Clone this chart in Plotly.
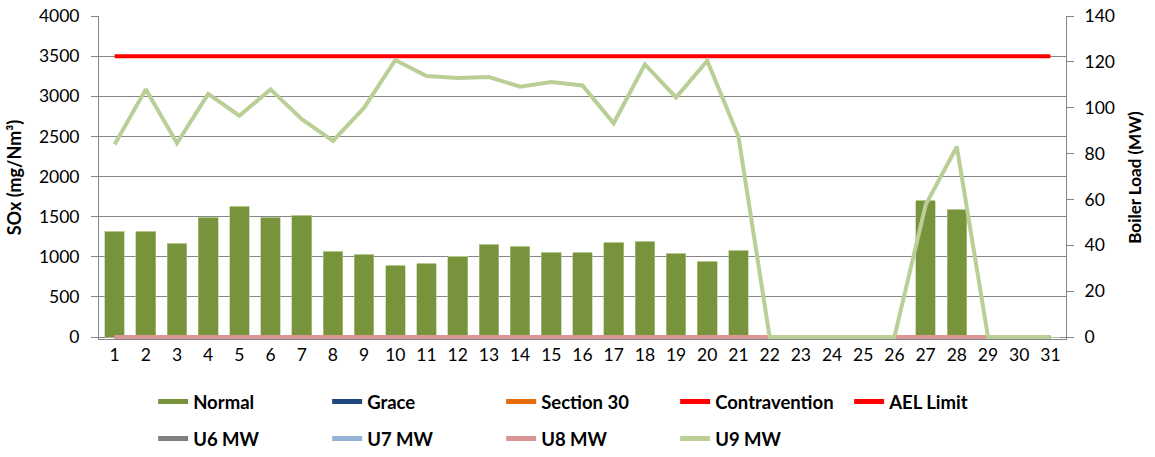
import plotly.graph_objects as go

days = list(range(1, 32))
normal = [1320, 1310, 1170, 1490, 1630, 1490, 1520, 1060, 1030, 890, 910, 1000, 1150, 1130,
          1055, 1050, 1175, 1190, 1040, 940, 1080, None, None, None, None, None, 1700, 1585,
          None, None, None]
grace = [0] * 31
section30 = [0] * 31
contravention = [0] * 31
ael_limit = [3500] * 31
u6_mw = [0] * 31
u7_mw = [0] * 31
u8_mw = [0] * 31
u9_mw = [84, 108, 84.5, 106, 96.5, 108, 95, 85.5, 100, 120.8, 113.8, 113, 113.4, 109.2,
         111.2, 109.7, 93.2, 118.9, 104.5, 120.5, 87.4, 0, 0, 0, 0, 0, 57.6, 83, 0, 0, 0]

FONT = "Lato"
GRID = "#868686"

fig = go.Figure()

bar_series = [("Normal", normal, "#77933C"), ("Grace", grace, "#1F497D"),
              ("Section 30", section30, "#E46C0A"), ("Contravention", contravention, "#FF0000")]
for name, vals, col in bar_series:
    fig.add_trace(go.Bar(x=days, y=vals, name=name, marker=dict(color=col, line=dict(color="#B5C98F", width=0.6)),
                         showlegend=False, yaxis="y"))

fig.add_trace(go.Scatter(x=days, y=ael_limit, name="AEL Limit", mode="lines",
                         line=dict(color="#FF0000", width=4), showlegend=False, yaxis="y"))

line_series = [("U6 MW", u6_mw, "#808080"), ("U7 MW", u7_mw, "#95B3D7"),
               ("U8 MW", u8_mw, "#D99694"), ("U9 MW", u9_mw, "#B9CF96")]
for name, vals, col in line_series:
    fig.add_trace(go.Scatter(x=days, y=vals, name=name, mode="lines", line=dict(color=col, width=4),
                             showlegend=False, yaxis="y2", cliponaxis=False))

# legend entries (row 1: fill swatches + AEL, row 2: unit loads)
for name, _, col in bar_series:
    fig.add_trace(go.Scatter(x=[None], y=[None], name=name, mode="lines",
                             line=dict(color=col, width=11), legend="legend"))
fig.add_trace(go.Scatter(x=[None], y=[None], name="AEL Limit", mode="lines",
                         line=dict(color="#FF0000", width=4), legend="legend"))
for name, _, col in line_series:
    fig.add_trace(go.Scatter(x=[None], y=[None], name=name, mode="lines",
                             line=dict(color=col, width=4), legend="legend2"))

legend_common = dict(orientation="h", xanchor="left", yanchor="middle", entrywidth=129,
                     entrywidthmode="pixels", traceorder="normal",
                     font=dict(family=FONT, size=18.5, color="#000000", weight="bold"),
                     bgcolor="rgba(0,0,0,0)", itemsizing="constant", tracegroupgap=0)

# small pad below zero so the thick zero-level load lines are not clipped
PAD_PX = 2
y_pad = PAD_PX * 4000 / 321
y2_pad = PAD_PX * 140 / 321
plot_h = 321 + PAD_PX

fig.update_layout(
    width=1155, height=457,
    margin=dict(l=99, r=89, t=16, b=120 - PAD_PX, autoexpand=False),
    paper_bgcolor="white", plot_bgcolor="white",
    barmode="stack", bargap=0.37,
    font=dict(family=FONT, size=17.5, color="#000000"),
    xaxis=dict(range=[0.5, 31.5], tickmode="array", tickvals=days, ticktext=[str(d) for d in days],
               showgrid=False, showline=True, linecolor=GRID, linewidth=1, ticks="", zeroline=False,
               tickfont=dict(size=17.5)),
    yaxis=dict(range=[-y_pad, 4000], tickmode="array", tickvals=list(range(0, 4001, 500)),
               showgrid=True, gridcolor=GRID, gridwidth=1,
               showline=True, linecolor=GRID, linewidth=1, ticks="outside", ticklen=7, tickcolor=GRID,
               ticklabelstandoff=8, ticklabeloverflow="allow", zeroline=False, tickfont=dict(size=17.5),
               title=dict(text="SOx (mg/Nm³)", font=dict(size=18, weight="bold"), standoff=12)),
    yaxis2=dict(range=[-y2_pad, 140], tickmode="array", tickvals=list(range(0, 141, 20)),
                overlaying="y", side="right", showgrid=False,
                showline=True, linecolor=GRID, linewidth=1, ticks="outside", ticklen=7, tickcolor=GRID,
                ticklabelstandoff=7, ticklabeloverflow="allow", zeroline=False, tickfont=dict(size=17.5),
                title=dict(text="Boiler Load (MW)", font=dict(size=17, weight="bold"), standoff=15)),
    legend=dict(x=0.056, y=(339 - 402) / plot_h, **legend_common),
    legend2=dict(x=0.056, y=(339 - 439) / plot_h, **legend_common),
)

fig.write_html("out.html", config={"displayModeBar": False},
               post_script="document.body.style.margin='0px';")
